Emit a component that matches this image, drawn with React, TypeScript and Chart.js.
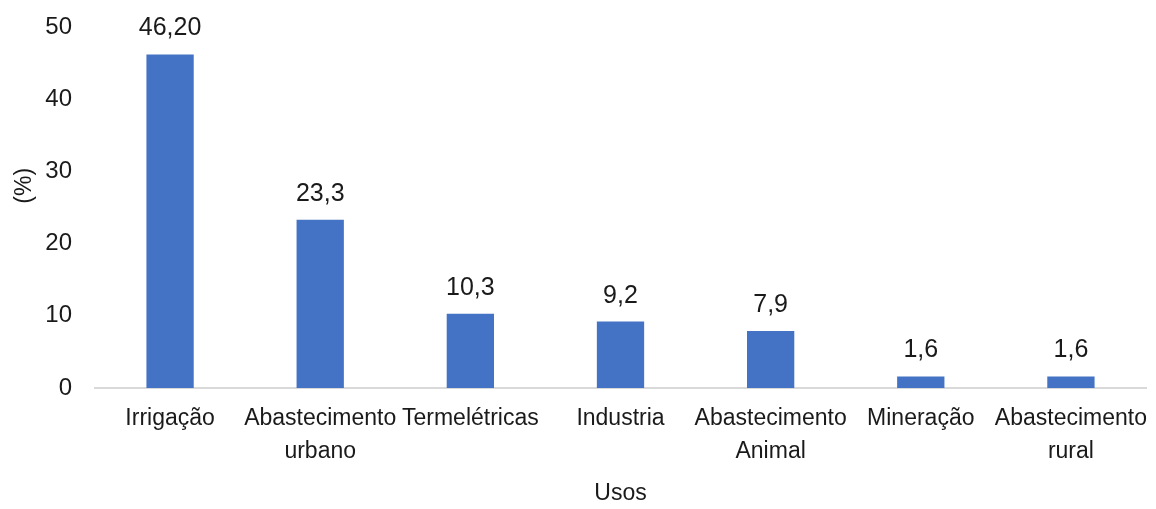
import React, { useEffect, useRef } from "react";
import { Chart, registerables } from "chart.js";

Chart.register(...registerables);

// Share of water withdrawals by use
const categories: (string | string[])[] = [
  "Irrigação",
  ["Abastecimento", "urbano"],
  "Termelétricas",
  "Industria",
  ["Abastecimento", "Animal"],
  "Mineração",
  ["Abastecimento", "rural"],
];
const values: number[] = [46.2, 23.3, 10.3, 9.2, 7.9, 1.6, 1.6];
const valueLabels: string[] = ["46,20", "23,3", "10,3", "9,2", "7,9", "1,6", "1,6"];
const yTicks: number[] = [0, 10, 20, 30, 40, 50];
const yTitle = "(%)";

const FONT = "'Liberation Sans', Arial, sans-serif";
const TEXT = "#1a1a1a";

// Value labels above each bar
const valueLabelPlugin = {
  id: "valueLabels",
  afterDatasetsDraw(chart: any) {
    const ctx = chart.ctx;
    const meta = chart.getDatasetMeta(0);
    ctx.save();
    ctx.font = `25px ${FONT}`;
    ctx.fillStyle = TEXT;
    ctx.textAlign = "center";
    ctx.textBaseline = "alphabetic";
    meta.data.forEach((bar: any, i: number) => {
      ctx.fillText(valueLabels[i], bar.x, bar.y - 19);
    });
    ctx.restore();
  },
};

// Rotated y-axis title, placed a little above the middle of the plot
const yTitlePlugin = {
  id: "yTitle",
  afterDraw(chart: any) {
    const ctx = chart.ctx;
    const area = chart.chartArea;
    ctx.save();
    ctx.font = `23px ${FONT}`;
    ctx.fillStyle = TEXT;
    ctx.textAlign = "center";
    ctx.textBaseline = "middle";
    ctx.translate(25, area.top + (area.bottom - area.top) * 0.44);
    ctx.rotate(-Math.PI / 2);
    ctx.fillText(yTitle, 0, 0);
    ctx.restore();
  },
};

export default function App() {
  const ref = useRef<HTMLCanvasElement>(null);

  useEffect(() => {
    document.body.style.margin = "0";
    const canvas = ref.current;
    if (!canvas) return;
    const chart = new Chart(canvas, {
      type: "bar",
      data: {
        labels: categories,
        datasets: [
          {
            data: values,
            backgroundColor: "#4472C4",
            borderWidth: 0,
            barPercentage: 0.63,
            categoryPercentage: 0.5,
          },
        ],
      },
      options: {
        responsive: false,
        animation: false,
        devicePixelRatio: 1,
        layout: { padding: { top: 27, right: 10, bottom: 0, left: 0 } },
        plugins: {
          legend: { display: false },
          tooltip: { enabled: false },
        },
        scales: {
          x: {
            offset: true,
            grid: { display: false, drawTicks: false },
            border: { display: true, color: "#d9d9d9", width: 2 },
            ticks: {
              color: TEXT,
              font: { family: FONT, size: 23, lineHeight: 1.4 },
              padding: 15,
              maxRotation: 0,
              autoSkip: false,
            },
            title: {
              display: true,
              text: "Usos",
              color: TEXT,
              font: { family: FONT, size: 23, lineHeight: 1.2 },
              padding: { top: 0, bottom: 2 },
            },
            afterFit(scale: any) {
              scale.height = 121;
              scale.paddingLeft = 0;
              scale.paddingRight = 0;
            },
          },
          y: {
            min: 0,
            max: 50,
            afterBuildTicks(scale: any) {
              scale.ticks = yTicks.map((v) => ({ value: v }));
            },
            grid: { display: false, drawTicks: false },
            border: { display: false },
            ticks: {
              color: TEXT,
              font: { family: FONT, size: 24 },
              padding: 23,
            },
            afterFit(scale: any) {
              scale.width = 95;
              scale.paddingTop = 0;
              scale.paddingBottom = 0;
            },
          },
        },
      },
      plugins: [valueLabelPlugin, yTitlePlugin],
    });
    return () => chart.destroy();
  }, []);

  return (
    <div style={{ width: 1156, height: 509, background: "#fff" }}>
      <canvas ref={ref} width={1156} height={509} />
    </div>
  );
}
